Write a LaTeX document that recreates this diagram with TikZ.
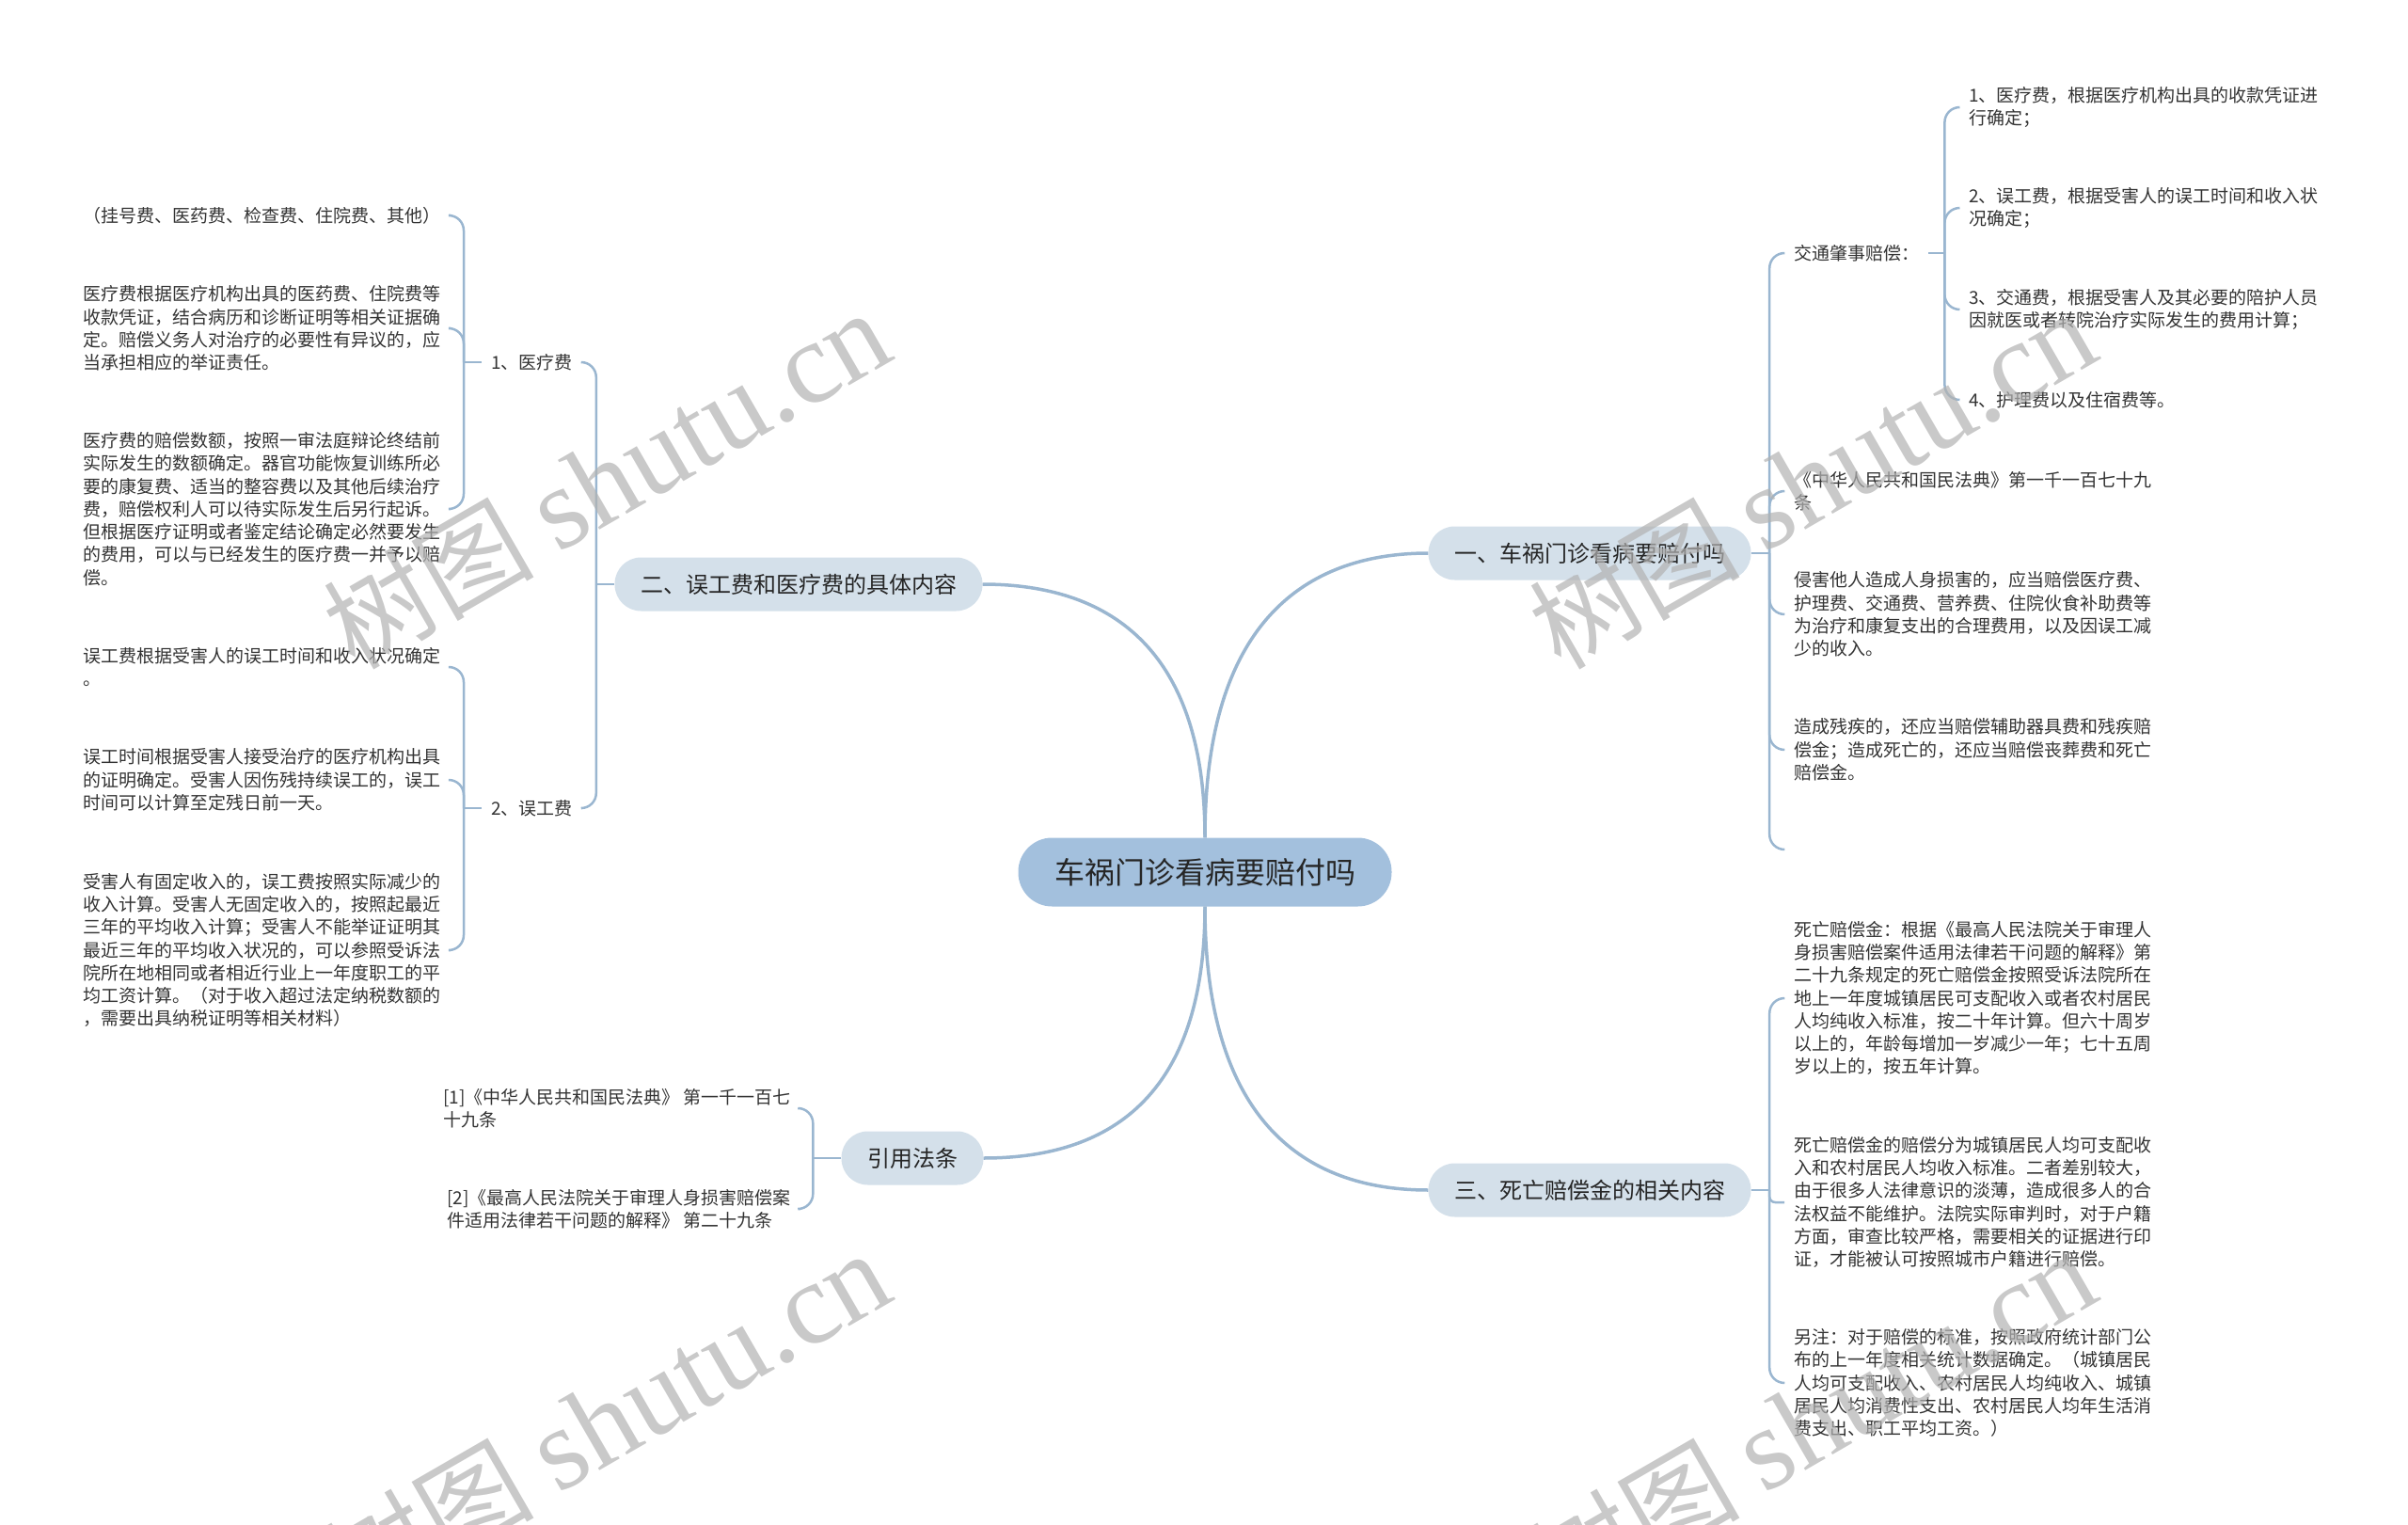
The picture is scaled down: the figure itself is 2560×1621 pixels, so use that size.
\documentclass[tikz,border=0pt]{standalone}
\usepackage{fontspec}
\setmainfont{Noto Sans CJK SC}
\newfontfamily\wmlatin{Liberation Serif}

\definecolor{linkblue}{HTML}{9AB6D0}
\definecolor{rootfill}{HTML}{A3C0DD}
\definecolor{topicfill}{HTML}{D4E0EA}
\definecolor{leaftext}{HTML}{333333}

\newcommand*{\leafsize}{\fontsize{19}{24.3}\selectfont}
\newcommand*{\wmark}{{\fontsize{112}{120}\selectfont 树图 }{\wmlatin\fontsize{124}{130}\selectfont shutu.cn}}

\begin{document}
\begin{tikzpicture}
[
	x=1pt, y=-1pt,
	root/.style={rectangle,rounded corners=36pt,fill=rootfill,minimum height=73pt,inner xsep=38.5pt,text=black!85,font=\fontsize{32}{36}\selectfont},
	topic/.style={rectangle,rounded corners=28pt,fill=topicfill,minimum height=57pt,inner xsep=27.5pt,text=black!85,font=\fontsize{24}{28}\selectfont},
	leaf/.style={align=left,inner xsep=10pt,inner ysep=2pt,text=leaftext,font=\leafsize},
	link/.style={draw=linkblue,line width=3.5pt},
	brace/.style={draw=linkblue,line width=2.5pt,rounded corners=16pt},
	wm/.style={rotate=30,text=black!30,text opacity=0.7,inner sep=0pt}
]

	\useasboundingbox (0,0) rectangle (2560,1621);

	% centre and main topics
	\node[root] (root) at (1281,927) {车祸门诊看病要赔付吗};
	\node[topic] (t1) at (1690,588) {一、车祸门诊看病要赔付吗};
	\node[topic] (t2) at (849,621) {二、误工费和医疗费的具体内容};
	\node[topic] (t3) at (1690,1265) {三、死亡赔偿金的相关内容};
	\node[topic] (t4) at (970,1231) {引用法条};

	\draw[link] (root.north) .. controls +(0,-240) and +(-120,0) .. (t1.west);
	\draw[link] (root.north) .. controls +(0,-215) and +(120,0) .. (t2.east);
	\draw[link] (root.south) .. controls +(0,240) and +(-120,0) .. (t3.west);
	\draw[link] (root.south) .. controls +(0,215) and +(120,0) .. (t4.east);

	% left side: 二
	\node[leaf,anchor=west] (m1) at (512,385) {1、医疗费};
	\node[leaf,anchor=west] (m2) at (512,859) {2、误工费};
	\draw[brace] (t2.west) -- ++(-19.5,0) coordinate (s2);
	\draw[brace] (s2) |- (m1.east);
	\draw[brace] (s2) |- (m2.east);

	\node[leaf,anchor=east] (a1) at (479,229) {（挂号费、医药费、检查费、住院费、其他）};
	\node[leaf,anchor=east] (a2) at (479,349) {医疗费根据医疗机构出具的医药费、住院费等\\收款凭证，结合病历和诊断证明等相关证据确\\定。赔偿义务人对治疗的必要性有异议的，应\\当承担相应的举证责任。};
	\node[leaf,anchor=east] (a3) at (479,541) {医疗费的赔偿数额，按照一审法庭辩论终结前\\实际发生的数额确定。器官功能恢复训练所必\\要的康复费、适当的整容费以及其他后续治疗\\费，赔偿权利人可以待实际发生后另行起诉。\\但根据医疗证明或者鉴定结论确定必然要发生\\的费用，可以与已经发生的医疗费一并予以赔\\偿。};
	\draw[brace] (m1.west) -- ++(-19,0) coordinate (sa);
	\foreach \n in {a1,a2,a3}
		\draw[brace] (sa) |- (\n.east);

	\node[leaf,anchor=east] (b1) at (479,709) {误工费根据受害人的误工时间和收入状况确定\\。};
	\node[leaf,anchor=east] (b2) at (479,829) {误工时间根据受害人接受治疗的医疗机构出具\\的证明确定。受害人因伤残持续误工的，误工\\时间可以计算至定残日前一天。};
	\node[leaf,anchor=east] (b3) at (479,1010) {受害人有固定收入的，误工费按照实际减少的\\收入计算。受害人无固定收入的，按照起最近\\三年的平均收入计算；受害人不能举证证明其\\最近三年的平均收入状况的，可以参照受诉法\\院所在地相同或者相近行业上一年度职工的平\\均工资计算。（对于收入超过法定纳税数额的\\，需要出具纳税证明等相关材料）};
	\draw[brace] (m2.west) -- ++(-19,0) coordinate (sb);
	\foreach \n in {b1,b2,b3}
		\draw[brace] (sb) |- (\n.east);

	% left side: 引用法条
	\node[leaf,anchor=east] (c1) at (851,1178) {[1]《中华人民共和国民法典》 第一千一百七\\十九条};
	\node[leaf,anchor=east] (c2) at (851,1285) {[2]《最高人民法院关于审理人身损害赔偿案\\件适用法律若干问题的解释》 第二十九条};
	\draw[brace] (t4.west) -- ++(-30,0) coordinate (s4);
	\draw[brace] (s4) |- (c1.east);
	\draw[brace] (s4) |- (c2.east);

	% right side: 一
	\node[leaf,anchor=west] (d0) at (1897,269) {交通肇事赔偿：};
	\node[leaf,anchor=west] (d1) at (1897,522) {《中华人民共和国民法典》第一千一百七十九\\条};
	\node[leaf,anchor=west] (d2) at (1897,653) {侵害他人造成人身损害的，应当赔偿医疗费、\\护理费、交通费、营养费、住院伙食补助费等\\为治疗和康复支出的合理费用，以及因误工减\\少的收入。};
	\node[leaf,anchor=west] (d3) at (1897,797) {造成残疾的，还应当赔偿辅助器具费和残疾赔\\偿金；造成死亡的，还应当赔偿丧葬费和死亡\\赔偿金。};
	\coordinate (d4) at (1897,903);
	\draw[brace] (t1.east) -- ++(19.5,0) coordinate (s1);
	\foreach \n in {d0,d1,d2,d3}
		\draw[brace] (s1) |- (\n.west);
	\draw[brace] (s1) |- (d4);

	\node[leaf,anchor=west] (e1) at (2083,114) {1、医疗费，根据医疗机构出具的收款凭证进\\行确定；};
	\node[leaf,anchor=west] (e2) at (2083,221) {2、误工费，根据受害人的误工时间和收入状\\况确定；};
	\node[leaf,anchor=west] (e3) at (2083,329) {3、交通费，根据受害人及其必要的陪护人员\\因就医或者转院治疗实际发生的费用计算；};
	\node[leaf,anchor=west] (e4) at (2083,425) {4、护理费以及住宿费等。};
	\draw[brace] (d0.east) -- ++(17,0) coordinate (sd);
	\foreach \n in {e1,e2,e3,e4}
		\draw[brace] (sd) |- (\n.west);

	% right side: 三
	\node[leaf,anchor=west] (f1) at (1897,1061) {死亡赔偿金：根据《最高人民法院关于审理人\\身损害赔偿案件适用法律若干问题的解释》第\\二十九条规定的死亡赔偿金按照受诉法院所在\\地上一年度城镇居民可支配收入或者农村居民\\人均纯收入标准，按二十年计算。但六十周岁\\以上的，年龄每增加一岁减少一年；七十五周\\岁以上的，按五年计算。};
	\node[leaf,anchor=west] (f2) at (1897,1278) {死亡赔偿金的赔偿分为城镇居民人均可支配收\\入和农村居民人均收入标准。二者差别较大，\\由于很多人法律意识的淡薄，造成很多人的合\\法权益不能维护。法院实际审判时，对于户籍\\方面，审查比较严格，需要相关的证据进行印\\证，才能被认可按照城市户籍进行赔偿。};
	\node[leaf,anchor=west] (f3) at (1897,1470) {另注：对于赔偿的标准，按照政府统计部门公\\布的上一年度相关统计数据确定。（城镇居民\\人均可支配收入、农村居民人均纯收入、城镇\\居民人均消费性支出、农村居民人均年生活消\\费支出、职工平均工资。）};
	\draw[brace] (t3.east) -- ++(19.5,0) coordinate (s3);
	\draw[brace] (s3) |- (f1.west);
	\draw[brace,rounded corners=6pt] (s3) |- (f2.west);
	\draw[brace] (s3) |- (f3.west);

	% watermarks
	\node[wm] (w1) at (645,510) {\wmark};
	\node[wm] (w2) at (1927,510) {\wmark};
	\node[wm] (w3) at (645,1510) {\wmark};
	\node[wm] (w4) at (1927,1510) {\wmark};

\end{tikzpicture}
\end{document}
